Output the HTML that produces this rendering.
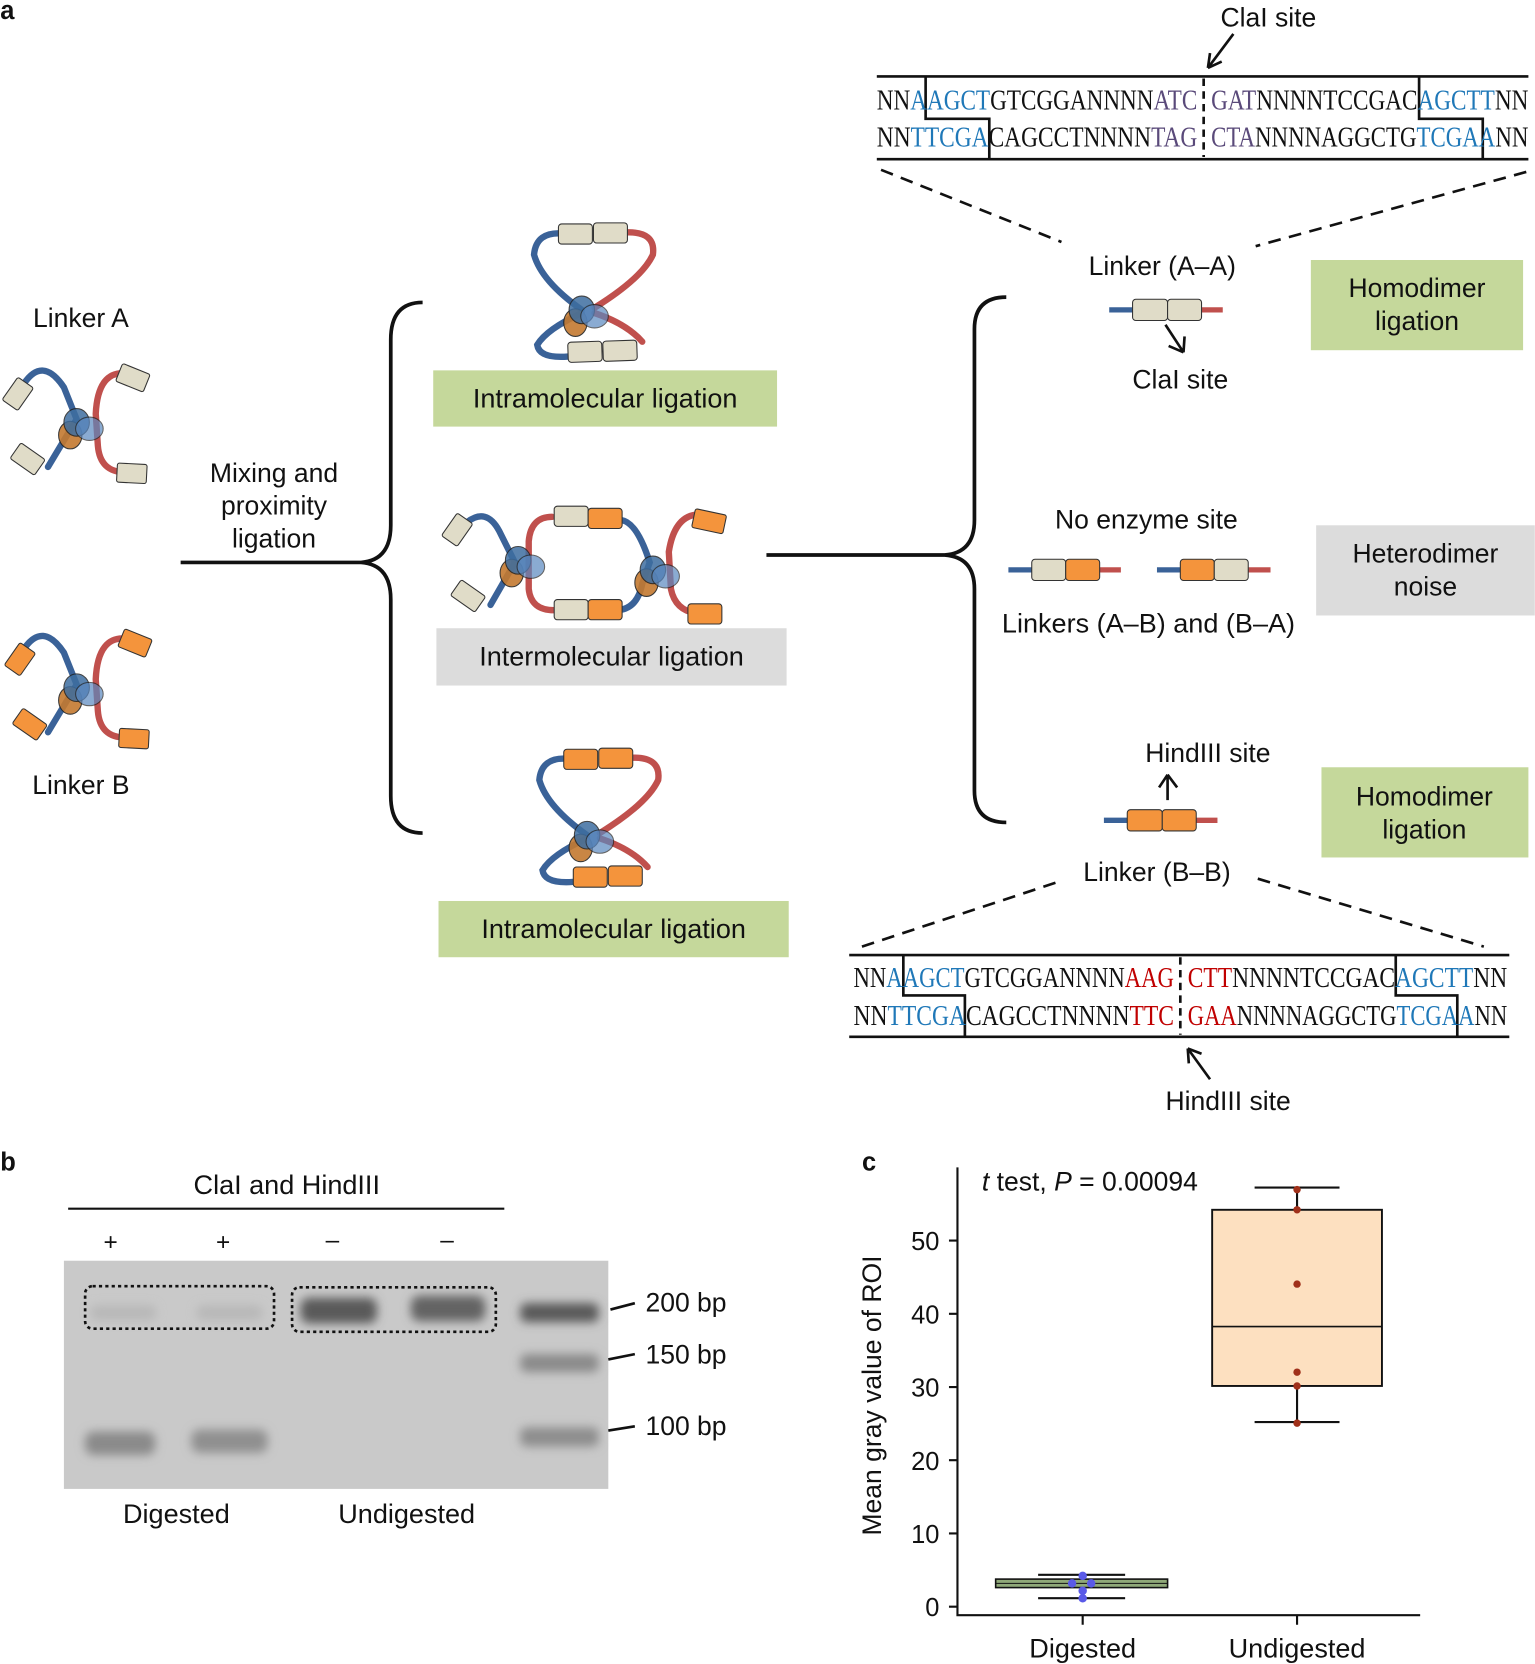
<!DOCTYPE html>
<html><head><meta charset="utf-8"><style>
html,body{margin:0;padding:0;background:#fff;}
svg{display:block;}
.s{font-family:"Liberation Sans",sans-serif;fill:#111;}
.q{font-family:"Liberation Serif",serif;font-size:27px;fill:#111;}
.b{fill:#1f78b8}.p{fill:#5a4a7a}.r{fill:#c00000}
</style></head><body>
<svg width="1535" height="1664" viewBox="0 0 1446 1568" xmlns="http://www.w3.org/2000/svg">
<defs>
<filter id="bl" x="-20%" y="-80%" width="140%" height="260%"><feGaussianBlur stdDeviation="4.5"/></filter>
<g id="core">
<ellipse cx="-6" cy="12" rx="11" ry="13" fill="#c47a30" stroke="#222" stroke-width="1" opacity="0.9"/>
<ellipse cx="0" cy="0" rx="12" ry="13" fill="#3e6ea0" stroke="#222" stroke-width="1" opacity="0.85"/>
<ellipse cx="12" cy="6" rx="13" ry="11" fill="#5a88c0" stroke="#222" stroke-width="1" opacity="0.7"/>
</g>
</defs>
<text x="0" y="18" class="s" font-size="24" font-weight="bold">a</text>
<text x="0" y="1103" class="s" font-size="24" font-weight="bold">b</text>
<text x="812" y="1103" class="s" font-size="24" font-weight="bold">c</text>

<!-- top sequence -->
<text x="1195" y="25" class="s" font-size="25" text-anchor="middle">ClaI site</text>
<path d="M1162 32 L1138 64 M1138 64 L1140 50 M1138 64 L1151 58" stroke="#111" stroke-width="2.5" fill="none"/>
<g stroke="#111" stroke-width="2.5" fill="none">
<path d="M826 72 H1440 M826 150 H1440"/>
<path d="M872 72 V112 H932 V150"/>
<path d="M1337 72 V112 H1397 V150"/>
</g>
<path d="M1134 74 V148" stroke="#111" stroke-width="2.5" stroke-dasharray="7,5"/>
<text class="q" x="826" y="103" textLength="302" lengthAdjust="spacingAndGlyphs">NN<tspan class="b">AAGCT</tspan>GTCGGANNNN<tspan class="p">ATC</tspan></text>
<text class="q" x="1141" y="103" textLength="299" lengthAdjust="spacingAndGlyphs"><tspan class="p">GAT</tspan>NNNNTCCGAC<tspan class="b">AGCTT</tspan>NN</text>
<text class="q" x="826" y="138" textLength="302" lengthAdjust="spacingAndGlyphs">NN<tspan class="b">TTCGA</tspan>CAGCCTNNNN<tspan class="p">TAG</tspan></text>
<text class="q" x="1141" y="138" textLength="299" lengthAdjust="spacingAndGlyphs"><tspan class="p">CTA</tspan>NNNNAGGCTG<tspan class="b">TCGAA</tspan>NN</text>
<path d="M830 160 L1000 228 M1438 162 L1183 232" stroke="#111" stroke-width="2.5" stroke-dasharray="12,8"/>

<!-- bottom sequence -->
<g stroke="#111" stroke-width="2.5" fill="none">
<path d="M800 900 H1422 M800 977 H1422"/>
<path d="M851 900 V938 H909 V977"/>
<path d="M1315 900 V938 H1373 V977"/>
</g>
<path d="M1112 902 V975" stroke="#111" stroke-width="2.5" stroke-dasharray="7,5"/>
<text class="q" x="804" y="930" textLength="302" lengthAdjust="spacingAndGlyphs">NN<tspan class="b">AAGCT</tspan>GTCGGANNNN<tspan class="r">AAG</tspan></text>
<text class="q" x="1119" y="930" textLength="301" lengthAdjust="spacingAndGlyphs"><tspan class="r">CTT</tspan>NNNNTCCGAC<tspan class="b">AGCTT</tspan>NN</text>
<text class="q" x="804" y="966" textLength="302" lengthAdjust="spacingAndGlyphs">NN<tspan class="b">TTCGA</tspan>CAGCCTNNNN<tspan class="r">TTC</tspan></text>
<text class="q" x="1119" y="966" textLength="301" lengthAdjust="spacingAndGlyphs"><tspan class="r">GAA</tspan>NNNNAGGCTG<tspan class="b">TCGAA</tspan>NN</text>
<path d="M812 892 L1000 830 M1185 828 L1398 892" stroke="#111" stroke-width="2.5" stroke-dasharray="12,8"/>
<path d="M1140 1017 L1119 988 M1119 988 L1120 1002 M1119 988 L1132 993" stroke="#111" stroke-width="2.5" fill="none"/>
<text x="1157" y="1046" class="s" font-size="25" text-anchor="middle">HindIII site</text>

<!-- left linkers -->
<text x="76" y="308" class="s" font-size="25" text-anchor="middle">Linker A</text>
<text x="76" y="748" class="s" font-size="25" text-anchor="middle">Linker B</text>
<path d="M22 362 Q40 335 60 365 L72 395 L45 440" stroke="#3a6298" stroke-width="6" fill="none" stroke-linecap="round"/>
<path d="M120 352 Q92 348 90 390 L92 420 Q94 445 118 445" stroke="#c0504d" stroke-width="6" fill="none" stroke-linecap="round"/>
<g transform="translate(72,398)"><use href="#core"/></g>
<g fill="#e0dcc8" stroke="#333" stroke-width="1">
<rect x="-12" y="-9" width="26" height="18" rx="2" transform="translate(16,372) rotate(-55)"/>
<rect x="-13" y="-9" width="28" height="18" rx="2" transform="translate(25,432) rotate(35)"/>
<rect x="-14" y="-9" width="28" height="18" rx="2" transform="translate(125,356) rotate(22)"/>
<rect x="-14" y="-9" width="28" height="18" rx="2" transform="translate(124,446) rotate(3)"/>
</g>
<g transform="translate(0,250)">
<path d="M22 362 Q40 335 60 365 L72 395 L45 440" stroke="#3a6298" stroke-width="6" fill="none" stroke-linecap="round"/>
<path d="M120 352 Q92 348 90 390 L92 420 Q94 445 118 445" stroke="#c0504d" stroke-width="6" fill="none" stroke-linecap="round"/>
<g transform="translate(72,398)"><use href="#core"/></g>
<g fill="#f4943c" stroke="#333" stroke-width="1">
<rect x="-12" y="-9" width="26" height="18" rx="2" transform="translate(18,372) rotate(-55)"/>
<rect x="-13" y="-9" width="28" height="18" rx="2" transform="translate(27,432) rotate(35)"/>
<rect x="-14" y="-9" width="28" height="18" rx="2" transform="translate(127,356) rotate(22)"/>
<rect x="-14" y="-9" width="28" height="18" rx="2" transform="translate(126,446) rotate(3)"/>
</g></g>

<!-- mixing + bracket -->
<text x="258" y="454" class="s" font-size="25" text-anchor="middle">Mixing and</text>
<text x="258" y="485" class="s" font-size="25" text-anchor="middle">proximity</text>
<text x="258" y="516" class="s" font-size="25" text-anchor="middle">ligation</text>
<path d="M170 530 H340 M398 285 Q368 285 368 320 V495 Q368 528 340 530 Q368 532 368 565 V750 Q368 785 398 785" stroke="#111" stroke-width="3.5" fill="none"/>

<!-- top intramolecular -->
<path d="M530 220 Q505 218 503 240 Q510 265 548 292" stroke="#3a6298" stroke-width="6" fill="none" stroke-linecap="round"/>
<path d="M590 219 Q618 218 615 240 Q605 262 560 290" stroke="#c0504d" stroke-width="6" fill="none" stroke-linecap="round"/>
<path d="M548 295 Q515 310 506 325 Q508 338 535 336" stroke="#3a6298" stroke-width="6" fill="none" stroke-linecap="round"/>
<path d="M560 295 Q590 305 605 322" stroke="#c0504d" stroke-width="6" fill="none" stroke-linecap="round"/>
<g transform="translate(548,292)"><use href="#core"/></g>
<g fill="#e0dcc8" stroke="#333" stroke-width="1">
<rect x="526" y="211" width="32" height="19" rx="3"/><rect x="559" y="210" width="32" height="19" rx="3"/>
<rect x="535" y="322" width="32" height="19" rx="3" transform="rotate(-2 551 331)"/><rect x="568" y="321" width="32" height="19" rx="3" transform="rotate(-2 584 330)"/>
</g>
<rect x="408" y="349" width="324" height="53" fill="#c5d89b"/>
<text x="570" y="384" class="s" font-size="25.5" text-anchor="middle">Intramolecular ligation</text>

<!-- bottom intramolecular -->
<g transform="translate(5,495)">
<path d="M530 220 Q505 218 503 240 Q510 265 548 292" stroke="#3a6298" stroke-width="6" fill="none" stroke-linecap="round"/>
<path d="M590 219 Q618 218 615 240 Q605 262 560 290" stroke="#c0504d" stroke-width="6" fill="none" stroke-linecap="round"/>
<path d="M548 295 Q515 310 506 325 Q508 338 535 336" stroke="#3a6298" stroke-width="6" fill="none" stroke-linecap="round"/>
<path d="M560 295 Q590 305 605 322" stroke="#c0504d" stroke-width="6" fill="none" stroke-linecap="round"/>
<g transform="translate(548,292)"><use href="#core"/></g>
<g fill="#f4943c" stroke="#333" stroke-width="1">
<rect x="526" y="211" width="32" height="19" rx="3"/><rect x="559" y="210" width="32" height="19" rx="3"/>
<rect x="535" y="322" width="32" height="19" rx="3"/><rect x="568" y="321" width="32" height="19" rx="3"/>
</g></g>
<rect x="413" y="849" width="330" height="53" fill="#c5d89b"/>
<text x="578" y="884" class="s" font-size="25.5" text-anchor="middle">Intramolecular ligation</text>

<!-- intermolecular -->
<path d="M440 492 Q458 478 470 500 L485 530 L462 570" stroke="#3a6298" stroke-width="6" fill="none" stroke-linecap="round"/>
<path d="M520 487 Q500 487 498 510 L498 555 Q500 575 522 575" stroke="#c0504d" stroke-width="6" fill="none" stroke-linecap="round"/>
<path d="M585 490 Q600 492 612 530 L605 550 Q600 575 580 575" stroke="#3a6298" stroke-width="6" fill="none" stroke-linecap="round"/>
<path d="M655 485 Q635 488 630 520 L632 555 Q636 575 656 578" stroke="#c0504d" stroke-width="6" fill="none" stroke-linecap="round"/>
<g transform="translate(488,528)"><use href="#core"/></g>
<g transform="translate(615,537)"><use href="#core"/></g>
<g stroke="#333" stroke-width="1">
<rect x="-12" y="-9" width="26" height="18" rx="2" fill="#e0dcc8" transform="translate(430,500) rotate(-55)"/>
<rect x="-13" y="-9" width="28" height="18" rx="2" fill="#e0dcc8" transform="translate(440,561) rotate(35)"/>
<rect x="522" y="477" width="32" height="19" rx="3" fill="#e0dcc8"/><rect x="554" y="479" width="32" height="19" rx="3" fill="#f4943c"/>
<rect x="522" y="565" width="32" height="19" rx="3" fill="#e0dcc8"/><rect x="554" y="565" width="32" height="19" rx="3" fill="#f4943c"/>
<rect x="-14" y="-9" width="30" height="18" rx="2" fill="#f4943c" transform="translate(667,491) rotate(12)"/>
<rect x="648" y="569" width="32" height="19" rx="3" fill="#f4943c"/>
</g>
<rect x="411" y="592" width="330" height="54" fill="#dcdcdc"/>
<text x="576" y="627" class="s" font-size="25.5" text-anchor="middle">Intermolecular ligation</text>

<!-- right bracket -->
<path d="M722 523 H890 Q918 521 918 490 V310 Q918 280 948 280 M890 523 Q918 525 918 555 V745 Q918 775 948 775" stroke="#111" stroke-width="3.5" fill="none"/>

<!-- AA -->
<text x="1095" y="259" class="s" font-size="25" text-anchor="middle">Linker (A–A)</text>
<path d="M1045 292 H1070" stroke="#3a6298" stroke-width="5"/><path d="M1130 292 H1152" stroke="#c0504d" stroke-width="5"/>
<rect x="1067" y="282" width="33" height="20" rx="3" fill="#e0dcc8" stroke="#333"/><rect x="1100" y="282" width="32" height="20" rx="3" fill="#e0dcc8" stroke="#333"/>
<path d="M1098 306 L1115 332 M1115 332 L1101 326 M1115 332 L1116 317" stroke="#111" stroke-width="2.5" fill="none"/>
<text x="1112" y="366" class="s" font-size="25" text-anchor="middle">ClaI site</text>
<rect x="1235" y="245" width="200" height="85" fill="#c5d89b"/>
<text x="1335" y="280" class="s" font-size="25" text-anchor="middle">Homodimer</text>
<text x="1335" y="311" class="s" font-size="25" text-anchor="middle">ligation</text>

<!-- AB -->
<text x="1080" y="498" class="s" font-size="25" text-anchor="middle">No enzyme site</text>
<path d="M950 537 H975" stroke="#3a6298" stroke-width="5"/><path d="M1035 537 H1056" stroke="#c0504d" stroke-width="5"/>
<rect x="972" y="527" width="32" height="20" rx="3" fill="#e0dcc8" stroke="#333"/><rect x="1004" y="527" width="32" height="20" rx="3" fill="#f4943c" stroke="#333"/>
<path d="M1090 537 H1115" stroke="#3a6298" stroke-width="5"/><path d="M1175 537 H1197" stroke="#c0504d" stroke-width="5"/>
<rect x="1112" y="527" width="32" height="20" rx="3" fill="#f4943c" stroke="#333"/><rect x="1144" y="527" width="32" height="20" rx="3" fill="#e0dcc8" stroke="#333"/>
<text x="1082" y="596" class="s" font-size="25.5" text-anchor="middle">Linkers (A–B) and (B–A)</text>
<rect x="1240" y="495" width="206" height="85" fill="#dcdcdc"/>
<text x="1343" y="530" class="s" font-size="25" text-anchor="middle">Heterodimer</text>
<text x="1343" y="561" class="s" font-size="25" text-anchor="middle">noise</text>

<!-- BB -->
<text x="1138" y="718" class="s" font-size="25" text-anchor="middle">HindIII site</text>
<path d="M1100 754 V730 M1100 730 L1092 742 M1100 730 L1109 742" stroke="#111" stroke-width="2.5" fill="none"/>
<path d="M1040 773 H1065" stroke="#3a6298" stroke-width="5"/><path d="M1125 773 H1147" stroke="#c0504d" stroke-width="5"/>
<rect x="1062" y="763" width="33" height="20" rx="3" fill="#f4943c" stroke="#333"/><rect x="1095" y="763" width="32" height="20" rx="3" fill="#f4943c" stroke="#333"/>
<text x="1090" y="830" class="s" font-size="25" text-anchor="middle">Linker (B–B)</text>
<rect x="1245" y="723" width="195" height="85" fill="#c5d89b"/>
<text x="1342" y="759" class="s" font-size="25" text-anchor="middle">Homodimer</text>
<text x="1342" y="790" class="s" font-size="25" text-anchor="middle">ligation</text>

<!-- gel b -->
<text x="270" y="1125" class="s" font-size="25.5" text-anchor="middle">ClaI and HindIII</text>
<path d="M64 1139 H475" stroke="#111" stroke-width="2"/>
<text x="104" y="1178" class="s" font-size="23" text-anchor="middle">+</text>
<text x="210" y="1178" class="s" font-size="23" text-anchor="middle">+</text>
<text x="313" y="1176" class="s" font-size="23" text-anchor="middle">–</text>
<text x="421" y="1176" class="s" font-size="23" text-anchor="middle">–</text>
<rect x="60" y="1188" width="513" height="215" fill="#c9c9c9"/>
<g filter="url(#bl)">
<rect x="80" y="1349" width="66" height="22" rx="8" fill="#8a8a8a"/>
<rect x="180" y="1347" width="72" height="22" rx="8" fill="#909090"/>
<rect x="283" y="1223" width="72" height="24" rx="8" fill="#5a5a5a"/>
<rect x="387" y="1221" width="70" height="24" rx="8" fill="#636363"/>
<rect x="490" y="1228" width="74" height="18" rx="6" fill="#5a5a5a"/>
<rect x="490" y="1276" width="74" height="17" rx="6" fill="#8a8a8a"/>
<rect x="490" y="1345" width="74" height="18" rx="6" fill="#8d8d8d"/>
<rect x="85" y="1230" width="62" height="14" rx="6" fill="#b8b8b8"/>
<rect x="185" y="1230" width="62" height="14" rx="6" fill="#b8b8b8"/>
</g>
<rect x="80" y="1212" width="178" height="40" rx="7" fill="none" stroke="#111" stroke-width="2.5" stroke-dasharray="3,3"/>
<rect x="275" y="1213" width="192" height="42" rx="7" fill="none" stroke="#111" stroke-width="2.5" stroke-dasharray="3,3"/>
<path d="M575 1234 L598 1228 M573 1281 L598 1276 M573 1348 L598 1344" stroke="#111" stroke-width="2.5"/>
<text x="608" y="1236" class="s" font-size="25">200 bp</text>
<text x="608" y="1285" class="s" font-size="25">150 bp</text>
<text x="608" y="1352" class="s" font-size="25">100 bp</text>
<text x="166" y="1435" class="s" font-size="25.5" text-anchor="middle">Digested</text>
<text x="383" y="1435" class="s" font-size="25.5" text-anchor="middle">Undigested</text>

<!-- plot c -->
<text transform="translate(830,1315) rotate(-90)" class="s" font-size="25" text-anchor="middle">Mean gray value of ROI</text>
<text x="925" y="1122" class="s" font-size="25"><tspan font-style="italic">t</tspan> test, <tspan font-style="italic">P</tspan> = 0.00094</text>
<path d="M902 1100 V1522 H1338 M902 1514 H894 M902 1445 H894 M902 1376 H894 M902 1307 H894 M902 1238 H894 M902 1169 H894 M1020 1522 V1531 M1222 1522 V1531" stroke="#111" stroke-width="2" fill="none"/>
<g class="s" font-size="24" text-anchor="end">
<text x="885" y="1523">0</text><text x="885" y="1454">10</text><text x="885" y="1385">20</text><text x="885" y="1316">30</text><text x="885" y="1247">40</text><text x="885" y="1178">50</text>
</g>
<text x="1020" y="1562" class="s" font-size="25.5" text-anchor="middle">Digested</text>
<text x="1222" y="1562" class="s" font-size="25.5" text-anchor="middle">Undigested</text>
<path d="M1182 1119 H1262 M1182 1340 H1262 M1222 1119 V1140 M1222 1306 V1340" stroke="#111" stroke-width="2"/>
<rect x="1142" y="1140" width="160" height="166" fill="#fde0c0" stroke="#111" stroke-width="1.8"/>
<path d="M1142 1250 H1302" stroke="#111" stroke-width="1.5"/>
<g fill="#a0301a"><circle cx="1222" cy="1121" r="3.5"/><circle cx="1222" cy="1140" r="3.5"/><circle cx="1222" cy="1210" r="3.5"/><circle cx="1222" cy="1293" r="3.5"/><circle cx="1222" cy="1306" r="3.5"/><circle cx="1222" cy="1341" r="3.5"/></g>
<path d="M978 1484 H1060 M978 1506 H1060 M1020 1484 V1506" stroke="#111" stroke-width="2"/>
<rect x="938" y="1488" width="162" height="8" fill="#8fa878" stroke="#111" stroke-width="1.5"/>
<path d="M938 1492 H1100" stroke="#111" stroke-width="1"/>
<g fill="#5a5ae8"><circle cx="1020" cy="1485" r="4"/><circle cx="1010" cy="1492" r="4"/><circle cx="1028" cy="1492" r="4"/><circle cx="1020" cy="1499" r="4"/><circle cx="1020" cy="1506" r="4"/></g>
</svg>
</body></html>
